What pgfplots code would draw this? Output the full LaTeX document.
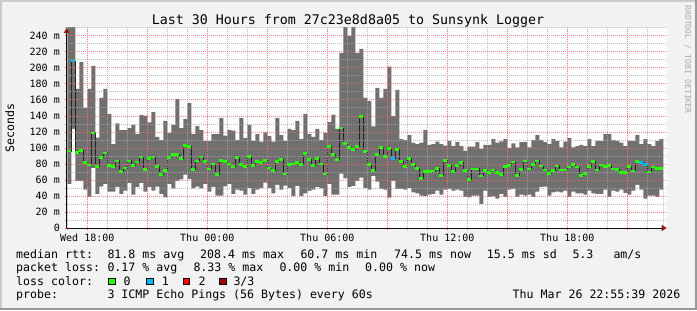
\documentclass[border=0pt]{standalone}
\usepackage{fontspec}
\usepackage{pgfplots}
\pgfplotsset{compat=1.18}
\usepackage{pgfplotstable}
\usetikzlibrary{arrows.meta}
\newfontfamily\dvm{DejaVu Sans Mono}
\newcommand\legf{\dvm\fontsize{11.6bp}{13bp}\selectfont}
\newcommand\tickf{\dvm\fontsize{10bp}{12bp}\selectfont}
\newcommand\titf{\dvm\fontsize{13.3bp}{15bp}\selectfont}
\newcommand\wmf{\dvm\fontsize{8.2bp}{10bp}\selectfont}
\definecolor{bgc}{RGB}{242,242,242}
\definecolor{shadea}{RGB}{203,203,203}
\definecolor{shadeb}{RGB}{153,153,153}
\definecolor{smoke}{RGB}{112,112,112}
\definecolor{mgridc}{RGB}{255,95,95}
\definecolor{gridc}{RGB}{170,170,170}
\definecolor{axisc}{RGB}{16,16,16}
\definecolor{arrowc}{RGB}{140,24,24}
\definecolor{lgreen}{RGB}{38,255,0}
\definecolor{lblue}{RGB}{0,184,255}
\definecolor{lred}{RGB}{255,0,0}
\definecolor{ldred}{RGB}{160,0,0}
\definecolor{medc}{RGB}{32,32,32}
\definecolor{wmc}{RGB}{170,170,170}
\pgfdeclareplotmark{hseg}{\pgfpathrectangle{\pgfpoint{-2bp}{-1.2bp}}{\pgfpoint{4bp}{2.4bp}}\pgfusepath{fill}}

\pgfplotstableread{
x lo hi med
17.0 55 262 96
17.2 124 262 208.4
17.4 59 174 94.6
17.6 59 207.5 96.7
17.8 48 150 81.7
18.0 39 174 79
18.2 75 202.5 119
18.4 42.5 113 76.7
18.6 51.7 162.5 88
18.8 55 174 94
19.0 45.4 142.5 78
19.2 45.4 105 76.7
19.4 51 130.8 84
19.6 42.5 122.5 70.4
19.8 46.7 122.5 75
20.0 56 125 84
20.2 41.7 128.8 78
20.4 51 117.5 82.5
20.6 56 141 89
20.8 45.4 140.4 73
21.0 51 132 86.7
21.2 46.7 145 89
21.4 51.7 114 76.7
21.6 42.5 110 66.7
21.8 38.3 133.8 71.7
22.0 55 118.8 88
22.2 49.6 129 91.7
22.4 59 161 91.7
22.6 60.8 125 86.7
22.8 66.7 136 103
23.0 61 156 101.7
23.2 49.6 117.5 73
23.4 51.7 127.5 84
23.6 49.6 122.5 89
23.8 55 109 83
24.0 45.4 109 74
24.2 51 117.5 80
24.4 40.4 117.5 66.7
24.6 40.4 137.5 84.2
24.8 52 115.4 82.9
25.0 55 122.5 80
25.2 42.5 121.7 76.7
25.4 48 110 87.9
25.6 46.7 137.5 79.2
25.8 41.7 112.5 76.7
26.0 50 129 89.2
26.2 42.5 109 77.9
26.4 48 117.5 82.9
26.6 50 108 81.7
26.8 56.7 119.6 84.2
27.0 50 115 75
27.2 43.3 108 71.7
27.4 54 137.5 82.9
27.6 48 116 85.4
27.8 53 109 67.5
28.0 50 123.8 79.2
28.2 40 122.5 80
28.4 52.5 133.8 81.7
28.6 40 111 79.2
28.8 43.3 142.5 92.9
29.0 46.3 117.5 85.4
29.2 48 114 77.9
29.4 51 123.8 86.7
29.6 49.6 110 80
29.8 40 118.8 67.5
30.0 55 132.5 101.7
30.2 41.7 141.7 91.7
30.4 41.7 123.8 85.4
30.6 68 219 125
30.8 62 262 105.4
31.0 51 240 100.4
31.2 52.5 262 97.9
31.4 59 219 101.7
31.6 63 224 139.2
31.8 50 162.5 95.4
32.0 48 159 79.4
32.2 65 127 71.7
32.4 58 175 91.8
32.6 49 162.5 100.4
32.8 48 173.8 89.2
33.0 38 201.7 99.2
33.2 59 140 86.7
33.4 48.5 172.5 97.9
33.6 49 111 82.9
33.8 48 110 76.7
34.0 50 116 86.7
34.2 44.6 106.7 79.4
34.4 43.3 105 74.2
34.6 40.4 106.7 61.8
34.8 40 122.5 70.4
35.0 41.7 104 70.4
35.2 42.5 105 71
35.4 46.7 108 74.2
35.6 41.7 105 65.4
35.8 48 103 84.2
36.0 49 109 77.9
36.2 46.7 102.5 70.4
36.4 48 107.5 77.9
36.6 46.7 102.5 81.7
36.8 39 96.7 72
37.0 38.3 101.7 60.7
37.2 40.4 101.7 74
37.4 40.4 107.5 73.9
37.6 30 99 65.2
37.8 46.7 104 72
38.0 39 104 69.6
38.2 39.6 111 72.5
38.4 36.7 106.7 69.2
38.6 42.5 108.3 66.7
38.8 39 111 76.7
39.0 48 100 78
39.2 48.8 105.8 82.5
39.4 39 100.8 65.4
39.6 41.7 107.5 73
39.8 40.4 107.5 83.5
40.0 41.7 100.8 74.1
40.2 39 110 79.5
40.4 45.4 116 84.1
40.6 51 110 77.5
40.8 51.7 107.5 72.8
41.0 40.4 105 68.2
41.2 44.6 111 71.7
41.4 45.4 109 77.8
41.6 44.6 100.8 72.4
41.8 46.7 108 72.3
42.0 39 112.5 76.6
42.2 45.4 100.8 79.3
42.4 43.3 102.5 76
42.6 43.3 104 65.4
42.8 41.7 102.5 68.2
43.0 46.7 111 76.7
43.2 43.3 102.5 83
43.4 42.5 109 72.8
43.6 42.5 109 79.1
43.8 48 117.5 76.7
44.0 39 117.5 78
44.2 46.7 110 73.6
44.4 45.4 109 72.9
44.6 48 106.7 69.5
44.8 44 102.5 69.5
45.0 41.7 109 76.7
45.2 46.7 109 71.5
45.4 54 116 83
45.6 48 105 81.7
45.8 36.7 111 79.5
46.0 40.4 105 70.2
46.2 40.4 102.5 76.2
46.4 39 109 74.2
46.6 48 111 74.5
46.8 48 111 74.5
}\data

\begin{document}
\begin{tikzpicture}[x=1bp,y=1bp]
\fill[bgc] (0,0) rectangle (697,310);
\fill[shadea] (0,308) rectangle (697,310);
\fill[shadea] (0,0) rectangle (2,310);
\fill[shadeb] (0,0) rectangle (697,2);
\fill[shadeb] (695,0) rectangle (697,310);
\begin{axis}[
  at={(66.7bp,82bp)}, anchor=south west,
  scale only axis, width=600bp, height=200bp,
  xmin=16.97, xmax=46.97, ymin=0, ymax=250,
  axis background/.style={fill=white},
  axis lines=left,
  axis line style={draw=axisc, line width=1bp},
  x axis line style={-{Triangle[length=5bp,width=6bp,color=arrowc]}},
  y axis line style={-{Triangle[length=5bp,width=6bp,color=arrowc]}},
  axis on top,
  xtick={18,21,...,45},
  xticklabels={Wed 18:00,,Thu 00:00,,Thu 06:00,,Thu 12:00,,Thu 18:00,},
  minor xtick={17,...,46},
  ytick={0,20,...,240},
  yticklabels={0,20 m,40 m,60 m,80 m,100 m,120 m,140 m,160 m,180 m,200 m,220 m,240 m},
  minor ytick={10,30,...,250},
  grid=both,
  major grid style={draw=mgridc, line width=1bp, dash pattern=on 1bp off 1bp, draw opacity=0.75},
  minor grid style={draw=gridc, line width=1bp, dash pattern=on 1bp off 1bp, draw opacity=0.75},
  tick align=outside,
  major tick length=2bp, minor tick length=2bp,
  major tick style={draw=mgridc, line width=1bp},
  minor tick style={draw=gridc, line width=1bp},
  ticklabel style={font=\tickf, inner sep=0pt},
  xticklabel style={anchor=base, yshift=-11bp},
  yticklabel style={anchor=east, xshift=-4.7bp},
]
\addplot[draw=none, fill=smoke, const plot mark left] table[x=x,y=hi]{\data} \closedcycle;
\addplot[draw=none, fill=white, const plot mark left] table[x=x,y=lo]{\data} \closedcycle;
\addplot[medc, line width=0.8bp, const plot mark left] table[x=x,y=med]{\data};
\addplot[lgreen, only marks, mark=hseg, skip coords between index={149}{150}] table[x expr=\thisrow{x}+0.1,y=med]{\data};
\addplot[lblue, only marks, mark=hseg] coordinates {(17.3,208.4) (33.3,86.7) (45.7,81.7) (45.9,79.5)};
\end{axis}
\node[anchor=base, inner sep=0, font=\titf] at (348,286) {Last 30 Hours from 27c23e8d8a05 to Sunsynk Logger};
\node[anchor=base, inner sep=0, font=\legf, rotate=90] at (14,182) {Seconds};
\node[anchor=base west, inner sep=0, font=\wmf, text=wmc, rotate=-90] at (685,305) {RRDTOOL / TOBI OETIKER};
\begin{scope}[every node/.style={anchor=base west, inner sep=0, font=\legf}]
\node at (16,52) {median rtt:};
\node at (107.3,52) {81.8 ms avg};
\node at (200,52) {208.4 ms max};
\node at (300.3,52) {60.7 ms min};
\node at (394,52) {74.5 ms now};
\node at (486.7,52) {15.5 ms sd};
\node at (572.3,52) {5.3};
\node at (613.3,52) {am/s};
\node at (16,38.5) {packet loss:};
\node at (107.3,38.5) {0.17 \% avg};
\node at (193.3,38.5) {8.33 \% max};
\node at (279.3,38.5) {0.00 \% min};
\node at (365,38.5) {0.00 \% now};
\node at (16,25) {loss color:};
\node at (123.3,25) {0};
\node at (161.7,25) {1};
\node at (198.3,25) {2};
\node at (233.3,25) {3/3};
\node at (16,11.5) {probe:};
\node at (107.3,11.5) {3 ICMP Echo Pings (56 Bytes) every 60s};
\node[anchor=base east] at (680.5,11.5) {Thu Mar 26 22:55:39 2026};
\end{scope}
\filldraw[fill=lgreen, draw=black, line width=0.8bp] (108.5,25.5) rectangle (115,32);
\filldraw[fill=lblue, draw=black, line width=0.8bp] (146.5,25.5) rectangle (153,32);
\filldraw[fill=lred, draw=black, line width=0.8bp] (183,25.5) rectangle (189.5,32);
\filldraw[fill=ldred, draw=black, line width=0.8bp] (219.5,25.5) rectangle (226,32);
\pgfresetboundingbox
\useasboundingbox (0,0) rectangle (697,310);
\end{tikzpicture}
\end{document}
